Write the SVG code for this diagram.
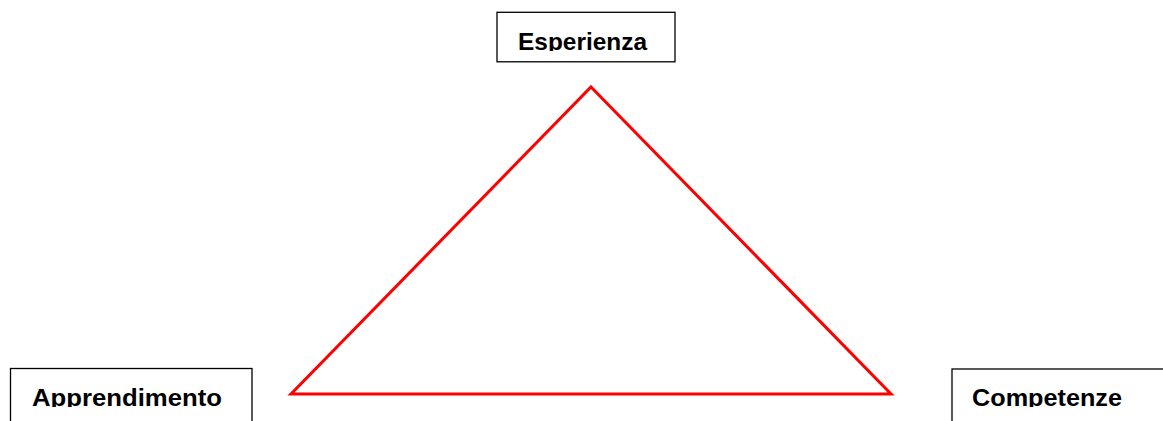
<svg xmlns="http://www.w3.org/2000/svg" width="1163" height="421" viewBox="0 0 1163 421">
<style>
.box{fill:#fff;stroke:#000;stroke-width:1.3}
.lbl{font-family:"Liberation Sans",Arial,sans-serif;font-weight:bold;font-size:24px;fill:#000}
.tri{fill:none;stroke:#ff0000;stroke-width:3;stroke-linejoin:miter}
</style>
<defs>
<clipPath id="c1"><rect x="497" y="12" width="178" height="39"/></clipPath>
<clipPath id="c2"><rect x="10" y="368" width="242" height="39"/></clipPath>
<clipPath id="c3"><rect x="952" y="369" width="211" height="38"/></clipPath>
</defs>
<rect width="1163" height="421" fill="#fff"/>
<g id="connectors">
<polygon class="tri" points="591,87 891,394 291,394"/>
</g>
<g id="esperienza">
<rect class="box" x="497" y="12.3" width="178" height="49.5"/>
<text class="lbl" x="518" y="50" textLength="129" lengthAdjust="spacingAndGlyphs" clip-path="url(#c1)">Esperienza</text>
</g>
<g id="apprendimento">
<rect class="box" x="10.5" y="368.5" width="241.5" height="60"/>
<text class="lbl" x="32" y="406" textLength="190" lengthAdjust="spacingAndGlyphs" clip-path="url(#c2)">Apprendimento</text>
</g>
<g id="competenze">
<rect class="box" x="952" y="369" width="220" height="60"/>
<text class="lbl" x="972" y="406" textLength="150" lengthAdjust="spacingAndGlyphs" clip-path="url(#c3)">Competenze</text>
</g>
</svg>
